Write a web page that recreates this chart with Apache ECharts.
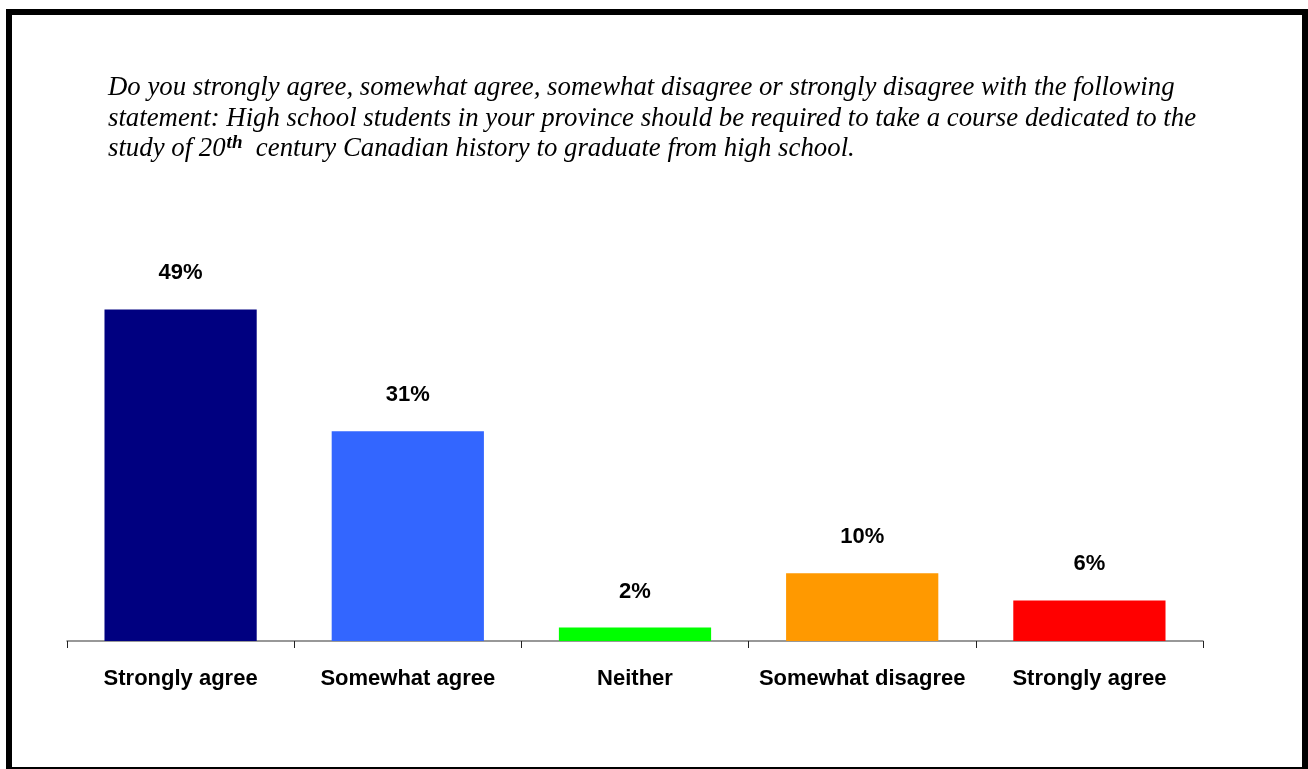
<!DOCTYPE html>
<html>
<head>
<meta charset="utf-8">
<script src="https://cdn.jsdelivr.net/npm/echarts@6/dist/echarts.min.js"></script>
<style>
  html, body { margin: 0; padding: 0; background: #fff; }
  #frame {
    position: absolute; left: 6px; top: 9px; width: 1302px; height: 760px;
    box-sizing: border-box; border-left: 6px solid #000; border-top: 6px solid #000;
    border-right: 6px solid #000; border-bottom: 2px solid #000;
  }
  #chart { position: absolute; left: 0; top: 0; width: 1308px; height: 769px; }
</style>
</head>
<body>
<div id="frame"></div>
<div id="chart"></div>
<script>
// Survey responses on a required 20th-century Canadian history course
const categories = ['Strongly agree', 'Somewhat agree', 'Neither', 'Somewhat disagree', 'Strongly agree'];
const shares = [49, 31, 2, 10, 6];
const barColors = ['#000080', '#3366FF', '#00FF00', '#FF9900', '#FF0000'];

const chart = echarts.init(document.getElementById('chart'), null, { renderer: 'canvas' });

chart.setOption({
  animation: false,
  backgroundColor: 'transparent',
  title: {
    left: 108,
    top: 73,
    padding: 0,
    text: '{i|Do you strongly agree, somewhat agree, somewhat disagree or strongly disagree with the following}\n' +
          '{i|statement: High school students in your province should be required to take a course dedicated to the}\n' +
          '{i|study of 20}{sup|th}{i|  century Canadian history to graduate from high school.}',
    textStyle: {
      fontWeight: 'normal',
      rich: {
        i: { fontFamily: 'Liberation Serif', fontStyle: 'italic', fontWeight: 'normal', fontSize: 26.8, color: '#000', lineHeight: 30.5 },
        sup: { fontFamily: 'Liberation Serif', fontStyle: 'italic', fontWeight: 'bold', fontSize: 19, color: '#000',
               lineHeight: 16, verticalAlign: 'top', padding: [0, 0, 0, 1] }
      }
    }
  },
  grid: { left: 67, right: 105, top: 235, bottom: 128 },
  xAxis: {
    type: 'category',
    data: categories,
    axisLine: { lineStyle: { color: '#777', width: 1.5 } },
    axisTick: { show: true, interval: 0, length: 7, lineStyle: { color: '#222' } },
    axisLabel: {
      interval: 0, margin: 27, color: '#000', fontFamily: 'Liberation Sans', fontWeight: 'bold', fontSize: 22
    }
  },
  yAxis: {
    type: 'value', min: 0, max: 60, show: false, splitLine: { show: false }
  },
  series: [{
    type: 'bar',
    barWidth: '67%',
    data: shares.map((v, i) => ({ value: v, itemStyle: { color: barColors[i] } })),
    label: {
      show: true, position: 'top', distance: 25,
      formatter: p => p.value + '%',
      color: '#000', fontFamily: 'Liberation Sans', fontWeight: 'bold', fontSize: 22
    }
  }]
});
</script>
</body>
</html>
